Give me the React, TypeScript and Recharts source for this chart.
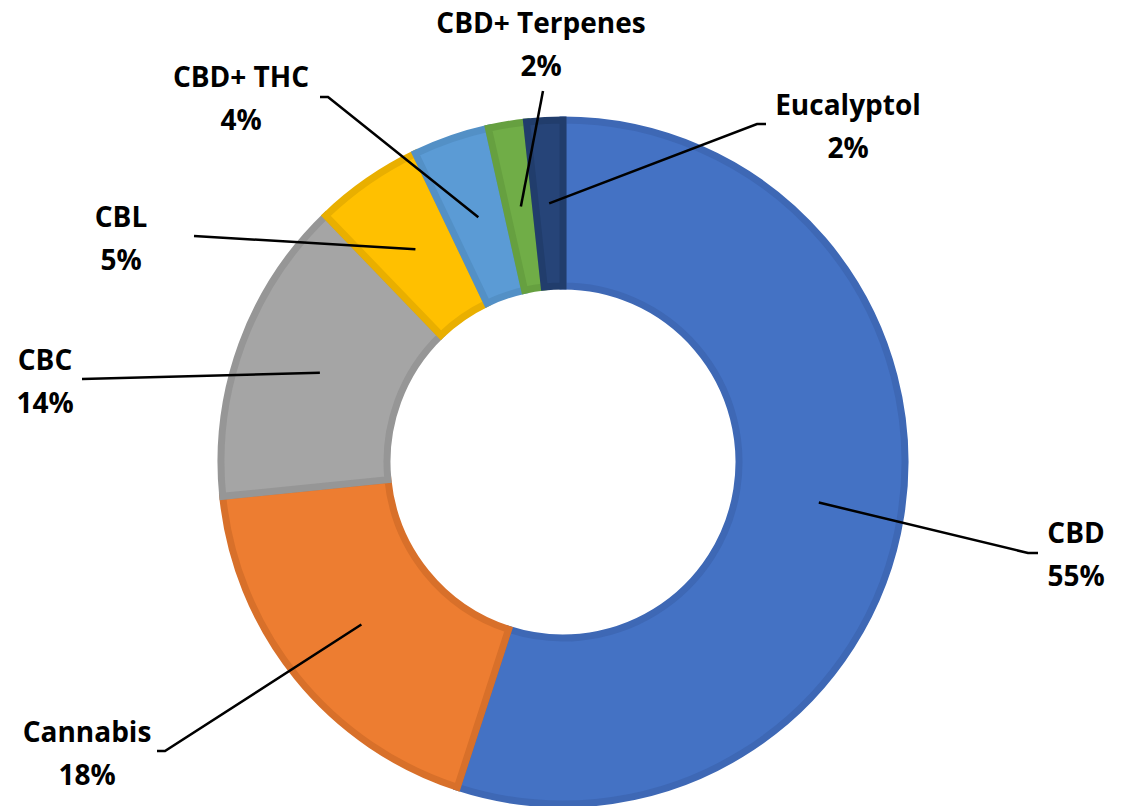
import React from 'react';
import { PieChart, Pie, Cell } from 'recharts';

const categories = ['CBD', 'Cannabis', 'CBC', 'CBL', 'CBD+ THC', 'CBD+ Terpenes', 'Eucalyptol'];
const shares = [55, 18.4, 14.4, 5.1, 3.6, 1.8, 1.7];
const percentLabels = ['55%', '18%', '14%', '5%', '4%', '2%', '2%'];

const fills = ['#4472C4', '#ED7D31', '#A5A5A5', '#FFC000', '#5B9BD5', '#70AD47', '#264478'];
const borders = ['#3E68B5', '#D8702A', '#969696', '#E9AF00', '#5390C6', '#66A040', '#213D6C'];

// where each label sits (text center / first baseline) and where its leader line ends
const labelLayout = [
  { x: 1076, y: 543, lineX: 1028, lineY: 553, tailX: 1038 },
  { x: 87, y: 742, lineX: 165, lineY: 751, tailX: 157 },
  { x: 45, y: 370, lineX: 82, lineY: 379, tailX: 82 },
  { x: 121, y: 227, lineX: 194, lineY: 236, tailX: 194 },
  { x: 241, y: 87, lineX: 328, lineY: 97, tailX: 320 },
  { x: 541, y: 33, lineX: 543, lineY: 91, tailX: 543 },
  { x: 848, y: 115, lineX: 757, lineY: 124, tailX: 766 },
];

const data = categories.map((name, i) => ({ name, value: shares[i] }));

const RADIAN = Math.PI / 180;

const renderLabel = (props: any) => {
  const { cx, cy, midAngle, innerRadius, outerRadius, index } = props;
  const pos = labelLayout[index];
  const r = (innerRadius + outerRadius) / 2;
  const sx = cx + r * Math.cos(-midAngle * RADIAN);
  const sy = cy + r * Math.sin(-midAngle * RADIAN);
  return (
    <g key={`lbl-${index}`}>
      <polyline
        points={`${sx},${sy} ${pos.lineX},${pos.lineY} ${pos.tailX},${pos.lineY}`}
        fill="none"
        stroke="#000"
        strokeWidth={2.5}
      />
      <text
        x={pos.x}
        y={pos.y}
        textAnchor="middle"
        fill="#000"
        fontFamily="'Open Sans', Lato, sans-serif"
        fontWeight={700}
        fontSize={28}
      >
        <tspan x={pos.x} y={pos.y}>{categories[index]}</tspan>
        <tspan x={pos.x} y={pos.y + 43}>{percentLabels[index]}</tspan>
      </text>
    </g>
  );
};

export default function App() {
  return (
    <div style={{ position: 'absolute', left: 0, top: 0, width: 1126, height: 806, background: '#fff' }}>
      <PieChart width={1126} height={806} margin={{ top: 0, right: 0, bottom: 0, left: 0 }}>
        <Pie
          data={data}
          dataKey="value"
          nameKey="name"
          cx={563}
          cy={462}
          innerRadius={176}
          outerRadius={342}
          startAngle={90}
          endAngle={-270}
          paddingAngle={0}
          label={renderLabel}
          labelLine={false}
          isAnimationActive={false}
        >
          {data.map((d, i) => (
            <Cell key={d.name} fill={fills[i]} stroke={borders[i]} strokeWidth={7} />
          ))}
        </Pie>
      </PieChart>
    </div>
  );
}
